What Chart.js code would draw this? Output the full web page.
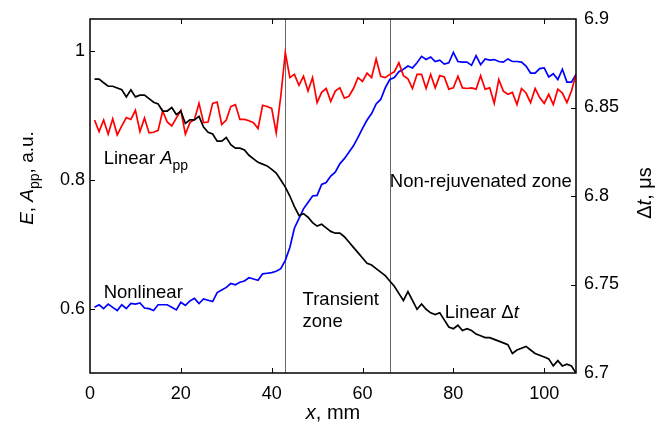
<!DOCTYPE html>
<html>
<head>
<meta charset="utf-8">
<script src="https://cdn.jsdelivr.net/npm/chart.js@4.4.1/dist/chart.umd.min.js"></script>
<style>
html, body { margin: 0; padding: 0; background: #fff; }
#wrap { width: 659px; height: 425px; }
</style>
</head>
<body>
<div id="wrap"><canvas id="chart"></canvas></div>
<script>
// positions along the sample, mm
const positions = [1, 2, 3, 4, 5, 6, 7, 8, 9, 10,
    11, 12, 13, 14, 15, 16, 17, 18, 19, 20,
    21, 22, 23, 24, 25, 26, 27, 28, 29, 30,
    31, 32, 33, 34, 35, 36, 37, 38, 39, 40,
    41, 42, 43, 44, 45, 46, 47, 48, 49, 50,
    51, 52, 53, 54, 55, 56, 57, 58, 59, 60,
    61, 62, 63, 64, 65, 66, 67, 68, 69, 70,
    71, 72, 73, 74, 75, 76, 77, 78, 79, 80,
    81, 82, 83, 84, 85, 86, 87, 88, 89, 90,
    91, 92, 93, 94, 95, 96, 97, 98, 99, 100,
    101, 102, 103, 104, 105, 106, 107];

// Linear App, a.u. (left axis)
const ampLinear = [0.893, 0.875, 0.893, 0.871, 0.895, 0.870, 0.884, 0.897, 0.894, 0.908,
    0.875, 0.896, 0.873, 0.874, 0.877, 0.907, 0.890, 0.884, 0.896, 0.908,
    0.871, 0.889, 0.894, 0.919, 0.889, 0.890, 0.919, 0.921, 0.886, 0.893,
    0.914, 0.917, 0.894, 0.894, 0.892, 0.889, 0.880, 0.916, 0.914, 0.911,
    0.873, 0.930, 0.998, 0.959, 0.964, 0.947, 0.961, 0.938, 0.959, 0.920,
    0.936, 0.942, 0.922, 0.938, 0.943, 0.927, 0.930, 0.942, 0.959, 0.953,
    0.966, 0.959, 0.988, 0.961, 0.959, 0.964, 0.968, 0.982, 0.962, 0.957,
    0.942, 0.964, 0.964, 0.942, 0.964, 0.943, 0.962, 0.960, 0.941, 0.943,
    0.961, 0.943, 0.942, 0.943, 0.941, 0.962, 0.941, 0.943, 0.919, 0.956,
    0.938, 0.933, 0.936, 0.917, 0.942, 0.935, 0.920, 0.942, 0.928, 0.919,
    0.933, 0.917, 0.941, 0.935, 0.920, 0.938, 0.964];

// Nonlinear E, a.u. (left axis)
const nonlinear = [0.602, 0.606, 0.600, 0.607, 0.602, 0.597, 0.606, 0.600, 0.608, 0.607,
    0.609, 0.601, 0.600, 0.597, 0.606, 0.606, 0.606, 0.602, 0.598, 0.610,
    0.605, 0.612, 0.616, 0.608, 0.615, 0.613, 0.611, 0.625, 0.629, 0.633,
    0.639, 0.637, 0.641, 0.643, 0.648, 0.646, 0.644, 0.654, 0.655, 0.656,
    0.658, 0.662, 0.675, 0.695, 0.725, 0.740, 0.755, 0.765, 0.775, 0.776,
    0.793, 0.796, 0.806, 0.812, 0.825, 0.833, 0.843, 0.853, 0.866, 0.880,
    0.893, 0.903, 0.918, 0.925, 0.943, 0.956, 0.959, 0.968, 0.972, 0.977,
    0.974, 0.982, 0.992, 0.987, 0.991, 0.984, 0.986, 0.980, 0.982, 0.998,
    0.984, 0.983, 0.983, 0.978, 0.993, 0.979, 0.988, 0.986, 0.987, 0.984,
    0.983, 0.988, 0.984, 0.984, 0.983, 0.977, 0.966, 0.966, 0.973, 0.974,
    0.960, 0.965, 0.956, 0.972, 0.952, 0.952, 0.964];

// Linear delta t, us (right axis)
const dtLinear = [6.866, 6.866, 6.864, 6.862, 6.862, 6.861, 6.860, 6.856, 6.860, 6.856,
    6.857, 6.857, 6.855, 6.853, 6.852, 6.848, 6.848, 6.850, 6.846, 6.848,
    6.841, 6.843, 6.843, 6.845, 6.839, 6.836, 6.835, 6.831, 6.831, 6.833,
    6.829, 6.827, 6.827, 6.826, 6.823, 6.821, 6.819, 6.818, 6.817, 6.815,
    6.813, 6.809, 6.805, 6.800, 6.794, 6.789, 6.790, 6.788, 6.785, 6.783,
    6.784, 6.782, 6.780, 6.779, 6.779, 6.777, 6.774, 6.771, 6.768, 6.765,
    6.762, 6.761, 6.759, 6.757, 6.755, 6.752, 6.749, 6.745, 6.741, 6.746,
    6.741, 6.736, 6.739, 6.736, 6.734, 6.733, 6.734, 6.730, 6.726, 6.725,
    6.727, 6.724, 6.725, 6.724, 6.722, 6.721, 6.720, 6.720, 6.719, 6.718,
    6.717, 6.716, 6.711, 6.713, 6.714, 6.715, 6.713, 6.711, 6.710, 6.709,
    6.708, 6.704, 6.707, 6.704, 6.705, 6.704, 6.700];

const zoneBounds = [43, 66];
const xTicks = [0, 20, 40, 60, 80, 100];
const leftTicks = [0.6, 0.8, 1];
const rightTicks = [6.7, 6.75, 6.8, 6.85, 6.9];

const FONT = "'Liberation Sans', Arial, sans-serif";

function pts(ys) {
    return positions.map((x, i) => ({ x: x, y: ys[i] }));
}

function setFont(ctx, p) {
    ctx.font = (p.italic ? 'italic ' : '') + (p.size || 18.5) + 'px ' + FONT;
}

function richWidth(ctx, pieces) {
    let w = 0;
    pieces.forEach(p => { setFont(ctx, p); w += ctx.measureText(p.text).width; });
    return w;
}

// draw a run of text pieces (italic, subscripts) starting at x
function drawRich(ctx, pieces, x, y) {
    let cx = x;
    pieces.forEach(p => {
        setFont(ctx, p);
        ctx.fillText(p.text, cx, y + (p.dy || 0));
        cx += ctx.measureText(p.text).width;
    });
}

// labels on the plot, placed in data coordinates (x mm, left axis value)
const notes = [
    { x: 3.0, y: 0.825, pieces: [{ text: 'Linear ' }, { text: 'A', italic: true }, { text: 'pp', size: 14, dy: 6 }] },
    { x: 3.0, y: 0.617, pieces: [{ text: 'Nonlinear' }] },
    { x: 46.8, y: 0.605, pieces: [{ text: 'Transient' }] },
    { x: 46.8, y: 0.572, pieces: [{ text: 'zone' }] },
    { x: 66.0, y: 0.789, pieces: [{ text: 'Non-rejuvenated zone' }] },
    { x: 78.1, y: 0.586, pieces: [{ text: 'Linear \u0394' }, { text: 't', italic: true }] },
];

const framePlugin = {
    id: 'frame',
    beforeDatasetsDraw(chart) {
        const { ctx, chartArea: a, scales } = chart;
        ctx.save();
        ctx.strokeStyle = '#666';
        ctx.lineWidth = 1;
        zoneBounds.forEach(v => {
            const px = Math.round(scales.x.getPixelForValue(v)) + 0.5;
            ctx.beginPath();
            ctx.moveTo(px, a.top);
            ctx.lineTo(px, a.bottom);
            ctx.stroke();
        });
        ctx.restore();
    },
    afterDatasetsDraw(chart) {
        const { ctx, chartArea: a, scales } = chart;
        ctx.save();
        ctx.strokeStyle = '#000';
        ctx.lineWidth = 1.5;
        ctx.strokeRect(a.left, a.top, a.right - a.left, a.bottom - a.top);

        // inward ticks
        ctx.lineWidth = 1;
        ctx.beginPath();
        xTicks.slice(1).forEach(v => {
            const px = Math.round(scales.x.getPixelForValue(v)) + 0.5;
            ctx.moveTo(px, a.bottom); ctx.lineTo(px, a.bottom - 5);
            ctx.moveTo(px, a.top); ctx.lineTo(px, a.top + 5);
        });
        leftTicks.forEach(v => {
            const py = Math.round(scales.yL.getPixelForValue(v)) + 0.5;
            ctx.moveTo(a.left, py); ctx.lineTo(a.left + 5, py);
        });
        rightTicks.slice(1, -1).forEach(v => {
            const py = Math.round(scales.yR.getPixelForValue(v)) + 0.5;
            ctx.moveTo(a.right, py); ctx.lineTo(a.right - 5, py);
        });
        ctx.stroke();

        // text on the plot
        ctx.fillStyle = '#000';
        ctx.textAlign = 'left';
        ctx.textBaseline = 'alphabetic';
        notes.forEach(n => {
            drawRich(ctx, n.pieces, scales.x.getPixelForValue(n.x), scales.yL.getPixelForValue(n.y));
        });

        // axis titles
        const xt = [{ text: 'x', italic: true, size: 20 }, { text: ', mm', size: 20 }];
        drawRich(ctx, xt, (a.left + a.right) / 2 - richWidth(ctx, xt) / 2, 419);

        const lt = [{ text: 'E', italic: true, size: 19 }, { text: ', ', size: 19 },
            { text: 'A', italic: true, size: 19 }, { text: 'pp', size: 14, dy: 6 }, { text: ', a.u.', size: 19 }];
        ctx.save();
        ctx.translate(33, 178);
        ctx.rotate(-Math.PI / 2);
        drawRich(ctx, lt, -richWidth(ctx, lt) / 2, 0);
        ctx.restore();

        const rt = [{ text: '\u0394', size: 20 }, { text: 't', italic: true, size: 20 }, { text: ', \u03bcs', size: 20 }];
        ctx.save();
        ctx.translate(651, 193);
        ctx.rotate(-Math.PI / 2);
        drawRich(ctx, rt, -richWidth(ctx, rt) / 2, 0);
        ctx.restore();

        ctx.restore();
    }
};

const tickFont = { family: FONT, size: 18 };

const ctx = document.getElementById('chart').getContext('2d');
const chart = new Chart(ctx, {
    type: 'line',
    data: {
        datasets: [
            {
                label: 'Linear \u0394t',
                data: pts(dtLinear),
                yAxisID: 'yR',
                borderColor: '#000',
                borderWidth: 1.7,
                pointRadius: 0,
                tension: 0,
            },
            {
                label: 'Linear App',
                data: pts(ampLinear),
                yAxisID: 'yL',
                borderColor: '#ff0000',
                borderWidth: 1.7,
                pointRadius: 0,
                tension: 0,
            },
            {
                label: 'Nonlinear',
                data: pts(nonlinear),
                yAxisID: 'yL',
                borderColor: '#0000ff',
                borderWidth: 1.7,
                pointRadius: 0,
                tension: 0,
            },
        ],
    },
    options: {
        responsive: true,
        maintainAspectRatio: false,
        animation: false,
        layout: { padding: { top: 19, left: 0, right: 0, bottom: 0 } },
        plugins: {
            legend: { display: false },
            tooltip: { enabled: false },
        },
        scales: {
            x: {
                type: 'linear',
                min: 0,
                max: 107,
                afterBuildTicks: s => { s.ticks = xTicks.map(v => ({ value: v })); },
                afterFit: s => { s.height = 52; },
                grid: { display: false, drawTicks: false },
                border: { display: false },
                ticks: { font: tickFont, color: '#000', padding: 10, maxRotation: 0, autoSkip: false },
            },
            yL: {
                position: 'left',
                min: 0.5,
                max: 1.05,
                afterBuildTicks: s => { s.ticks = leftTicks.map(v => ({ value: v })); },
                afterFit: s => { s.width = 90; },
                grid: { display: false, drawTicks: false },
                border: { display: false },
                ticks: { font: tickFont, color: '#000', padding: 5, autoSkip: false, callback: v => String(v) },
            },
            yR: {
                position: 'right',
                min: 6.7,
                max: 6.9,
                afterBuildTicks: s => { s.ticks = rightTicks.map(v => ({ value: v })); },
                afterFit: s => { s.width = 83; },
                grid: { display: false, drawTicks: false },
                border: { display: false },
                ticks: { font: tickFont, color: '#000', padding: 8, autoSkip: false, callback: v => String(v) },
            },
        },
    },
    plugins: [framePlugin],
});
</script>
</body>
</html>
